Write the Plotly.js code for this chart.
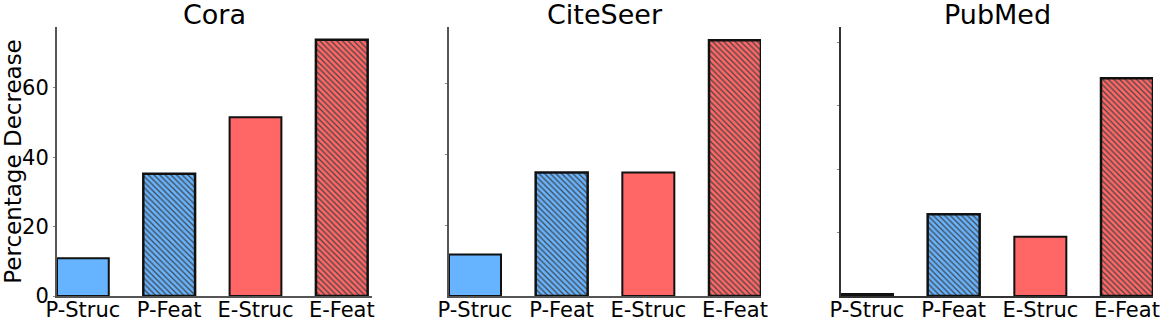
<!DOCTYPE html>
<html>
<head>
<meta charset="utf-8">
<script src="https://cdn.plot.ly/plotly-3.0.1.min.js"></script>
<style>
  body { margin: 0; background: white; }
  #myDiv1 { width: 1163px; height: 324px; }
</style>
</head>
<body>
<div id="myDiv1"></div>
<script>
// categories and values
var categories = ["P-Struc", "P-Feat", "E-Struc", "E-Feat"];
var datasets = ["Cora", "CiteSeer", "PubMed"];
var coraValues = [10.9, 35.2, 51.5, 73.8];
var citeseerValues = [11.7, 34.8, 34.8, 72.1];
var pubmedValues = [0.6, 25.8, 18.7, 68.7];
var yTicks = [0, 20, 40, 60];

var barColors = ["#66b3ff", "#66b3ff", "#ff6666", "#ff6666"];
var hatch = ["", "\\", "", "\\"];
var edgeWidths = [2, 2.5, 2, 2.5];

function makeBar(values, n) {
  return {
    x: categories,
    y: values,
    type: "bar",
    width: 0.6,
    xaxis: "x" + (n === 1 ? "" : n),
    yaxis: "y" + (n === 1 ? "" : n),
    marker: {
      color: barColors,
      line: { color: "#111", width: edgeWidths },
      pattern: {
        shape: hatch,
        fillmode: "overlay",
        fgcolor: ["#000", "#000", "#000", "#000"],
        bgcolor: barColors,
        fgopacity: 1,
        size: 4,
        solidity: 0.3,
      },
    },
    showlegend: false,
    hoverinfo: "x+y",
  };
}

var data = [
  makeBar(coraValues, 1),
  makeBar(citeseerValues, 2),
  makeBar(pubmedValues, 3),
];

var H = 324, W = 1163;
var yDom = [1 - 296 / H, 1 - 27 / H];

function xAx(left, right, range, lineColor, anchor) {
  return {
    domain: [left / W, right / W],
    range: range,
    anchor: anchor,
    showgrid: false,
    zeroline: false,
    showline: true,
    linecolor: lineColor,
    linewidth: 2,
    ticks: "",
    ticklabelstandoff: -6,
    tickfont: { size: 21, color: "#000" },
    fixedrange: true,
  };
}

function yAx(range, showLabels, lineColor, anchor) {
  return {
    domain: yDom,
    range: range,
    anchor: anchor,
    tickvals: showLabels ? yTicks : [20, 40, 60, 80],
    showticklabels: showLabels,
    showgrid: false,
    zeroline: false,
    showline: true,
    linecolor: lineColor,
    linewidth: 2,
    ticks: "outside",
    ticklen: 2,
    tickcolor: "#888",
    tickfont: { size: 21, color: "#000" },
    fixedrange: true,
  };
}

var titleFont = { size: 27, color: "#000" };
var annotations = [
  { text: "Cora", x: (57 + 372) / 2 / W },
  { text: "CiteSeer", x: (449 + 761) / 2 / W },
  { text: "PubMed", x: (841 + 1153) / 2 / W },
].map(function (a) {
  return {
    text: a.text, x: a.x, y: 1 - 15 / H,
    xref: "paper", yref: "paper",
    xanchor: "center", yanchor: "middle",
    showarrow: false, font: titleFont,
  };
});

var layout = {
  width: W,
  height: H,
  margin: { l: 0, r: 0, t: 0, b: 0 },
  paper_bgcolor: "white",
  plot_bgcolor: "white",
  font: { family: "DejaVu Sans, sans-serif", color: "#000" },
  annotations: annotations,
  xaxis: xAx(57, 372, [-0.3, 3.35], "#555", "y"),
  xaxis2: xAx(449, 761, [-0.3, 3.3], "#555", "y2"),
  xaxis3: xAx(841, 1153, [-0.3, 3.3], "#333", "y3"),
  yaxis: Object.assign(yAx([0, 77.5], true, "#555", "x"), {
    title: { text: "Percentage Decrease", font: { size: 23, color: "#000" }, standoff: 3 },
  }),
  yaxis2: yAx([0, 75.8], false, "#555", "x2"),
  yaxis3: yAx([0, 84.9], false, "#333", "x3"),
};

Plotly.newPlot("myDiv1", data, layout, { displaylogo: false, staticPlot: true });
</script>
</body>
</html>
